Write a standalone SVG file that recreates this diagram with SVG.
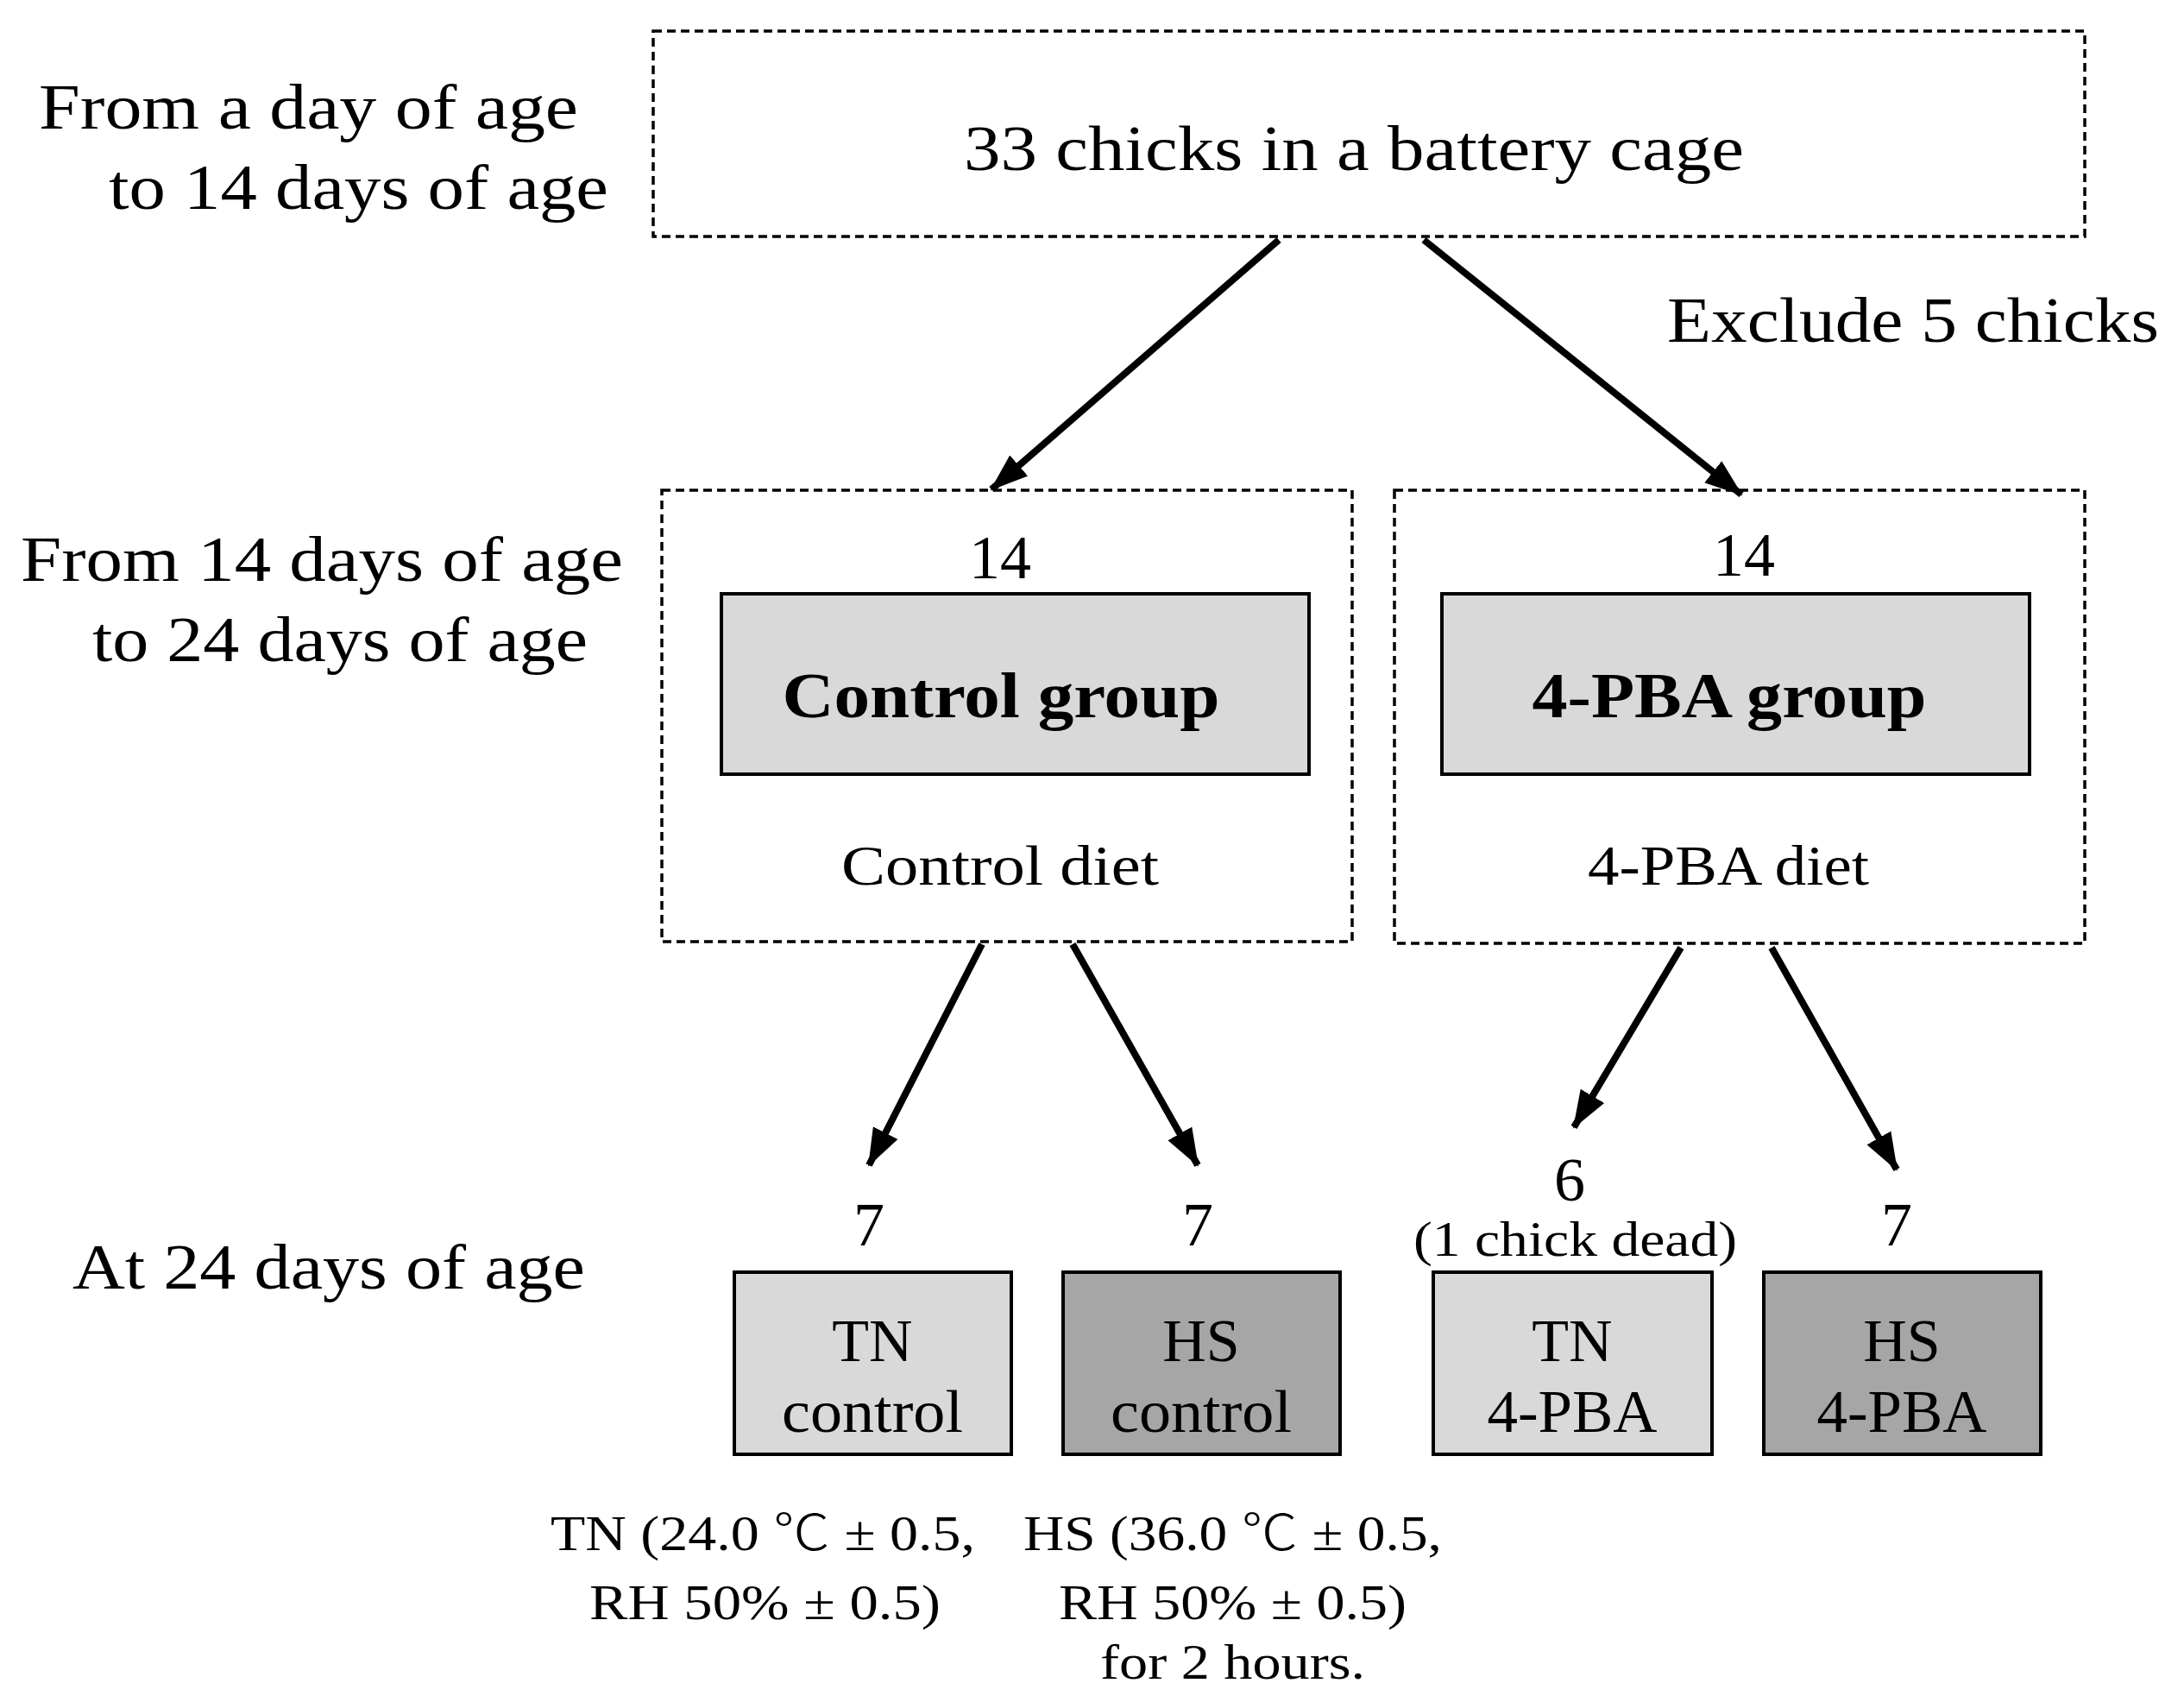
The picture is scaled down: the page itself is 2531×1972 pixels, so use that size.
<svg xmlns="http://www.w3.org/2000/svg" width="2531" height="1972" viewBox="0 0 2531 1972">
<style>
text{font-family:"Liberation Serif","DejaVu Serif",serif;fill:#000}
.lbl{font-size:74px}
.mid{font-size:66px;text-anchor:middle}
.big{font-size:74px;font-weight:bold;text-anchor:middle}
.num{font-size:72px;text-anchor:middle}
.box{font-size:70px;text-anchor:middle}
.note{font-size:58px}
.cel{font-family:"Noto Sans CJK JP","Noto Sans CJK SC",sans-serif;font-weight:300}
.dash{fill:#fff;stroke:#000;stroke-width:3.5;stroke-dasharray:10 6}
.g1{fill:#d9d9d9;stroke:#000;stroke-width:4}
.g2{fill:#a6a6a6;stroke:#000;stroke-width:4}
.arr{stroke:#000;stroke-width:8;fill:none;marker-end:url(#ah)}
</style>
<defs>
<marker id="ah" markerUnits="userSpaceOnUse" markerWidth="46" markerHeight="46" viewBox="0 0 46 46" refX="42" refY="23" orient="auto">
<path d="M0,7 L44,23 L0,39 Z" fill="#000"/>
</marker>
</defs>
<rect width="2531" height="1972" fill="#fff"/>
<g id="labels">
<text class="lbl" x="45" y="149" textLength="625" lengthAdjust="spacingAndGlyphs">From a day of age</text>
<text class="lbl" x="126" y="242" textLength="579" lengthAdjust="spacingAndGlyphs">to 14 days of age</text>
<text class="lbl" x="24" y="673" textLength="698" lengthAdjust="spacingAndGlyphs">From 14 days of age</text>
<text class="lbl" x="107" y="766" textLength="574" lengthAdjust="spacingAndGlyphs">to 24 days of age</text>
<text class="lbl" x="84" y="1493" textLength="594" lengthAdjust="spacingAndGlyphs">At 24 days of age</text>
<text class="lbl" x="1932" y="396" textLength="570" lengthAdjust="spacingAndGlyphs">Exclude 5 chicks</text>
</g>
<g id="start">
<rect class="dash" x="757" y="36" width="1659" height="238"/>
<text class="lbl" x="1117" y="197" textLength="904" lengthAdjust="spacingAndGlyphs">33 chicks in a battery cage</text>
</g>
<g id="control-group">
<rect class="dash" x="767" y="568" width="800" height="523"/>
<text class="num" x="1159" y="670">14</text>
<rect class="g1" x="836" y="688" width="681" height="209"/>
<text class="big" x="1160" y="831" textLength="507" lengthAdjust="spacingAndGlyphs">Control group</text>
<text class="mid" x="1159" y="1025" textLength="368" lengthAdjust="spacingAndGlyphs">Control diet</text>
</g>
<g id="pba-group">
<rect class="dash" x="1616" y="568" width="800" height="525"/>
<text class="num" x="2021" y="667">14</text>
<rect class="g1" x="1671" y="688" width="681" height="209"/>
<text class="big" x="2004" y="831" textLength="457" lengthAdjust="spacingAndGlyphs">4-PBA group</text>
<text class="mid" x="2003" y="1025" textLength="326" lengthAdjust="spacingAndGlyphs">4-PBA diet</text>
</g>
<g id="tn-control">
<text class="num" x="1007" y="1443">7</text>
<rect class="g1" x="851" y="1474" width="321" height="211"/>
<text class="box" x="1011" y="1577">TN</text>
<text class="box" x="1011" y="1659" textLength="210" lengthAdjust="spacingAndGlyphs">control</text>
</g>
<g id="hs-control">
<text class="num" x="1388" y="1443">7</text>
<rect class="g2" x="1232" y="1474" width="321" height="211"/>
<text class="box" x="1392" y="1577">HS</text>
<text class="box" x="1392" y="1659" textLength="210" lengthAdjust="spacingAndGlyphs">control</text>
</g>
<g id="tn-pba">
<text class="num" x="1819" y="1391">6</text>
<text class="note" x="1638" y="1455" textLength="375" lengthAdjust="spacingAndGlyphs">(1 chick dead)</text>
<rect class="g1" x="1661" y="1474" width="323" height="211"/>
<text class="box" x="1822" y="1577">TN</text>
<text class="box" x="1822" y="1659" textLength="197" lengthAdjust="spacingAndGlyphs">4-PBA</text>
</g>
<g id="hs-pba">
<text class="num" x="2198" y="1443">7</text>
<rect class="g2" x="2044" y="1474" width="321" height="211"/>
<text class="box" x="2204" y="1577">HS</text>
<text class="box" x="2204" y="1659" textLength="197" lengthAdjust="spacingAndGlyphs">4-PBA</text>
</g>
<g id="notes">
<text class="note" x="638" y="1796" textLength="492" lengthAdjust="spacingAndGlyphs">TN (24.0 <tspan class="cel">℃</tspan> ± 0.5,</text>
<text class="note" x="683" y="1876" textLength="407" lengthAdjust="spacingAndGlyphs">RH 50% ± 0.5)</text>
<text class="note" x="1186" y="1796" textLength="485" lengthAdjust="spacingAndGlyphs">HS (36.0 <tspan class="cel">℃</tspan> ± 0.5,</text>
<text class="note" x="1227" y="1876" textLength="403" lengthAdjust="spacingAndGlyphs">RH 50% ± 0.5)</text>
<text class="note" x="1275" y="1945" textLength="307" lengthAdjust="spacingAndGlyphs">for 2 hours.</text>
</g>
<g id="connectors">
<line class="arr" x1="1482" y1="278" x2="1149" y2="567"/>
<line class="arr" x1="1650" y1="278" x2="2018" y2="573"/>
<line class="arr" x1="1138" y1="1094" x2="1007" y2="1350"/>
<line class="arr" x1="1243" y1="1094" x2="1388" y2="1350"/>
<line class="arr" x1="1948" y1="1098" x2="1824" y2="1306"/>
<line class="arr" x1="2053" y1="1098" x2="2198" y2="1355"/>
</g>
</svg>
